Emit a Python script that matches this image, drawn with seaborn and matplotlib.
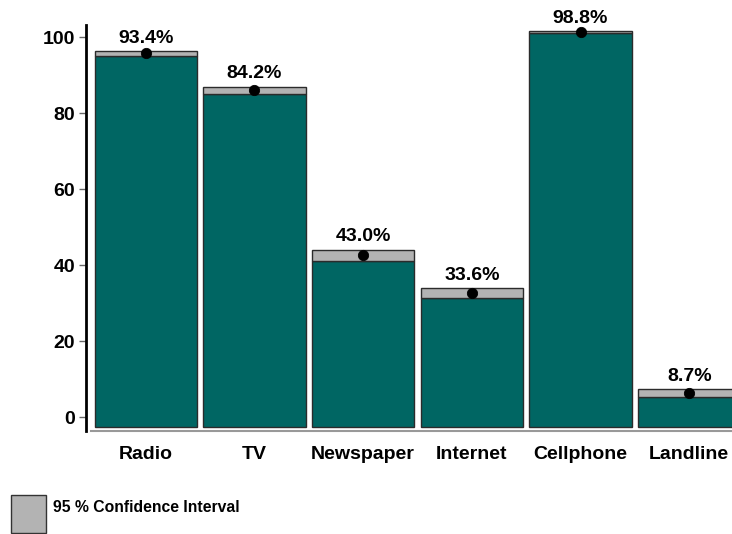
import matplotlib
matplotlib.use("Agg")
import matplotlib.pyplot as plt
from matplotlib.patches import Rectangle
import numpy as np
import pandas as pd
import seaborn as sns

# data (percent)
media = ["Radio", "TV", "Newspaper", "Internet", "Cellphone", "Landline"]
share = [93.4, 84.2, 43.0, 33.6, 98.8, 8.7]
ci_low = [92.7, 83.2, 41.6, 32.3, 98.6, 7.7]
ci_high = [93.9, 85.1, 44.4, 34.8, 98.9, 9.6]

# the axis labels of the original sit on a slightly stretched scale
axis_labels = [0, 20, 40, 60, 80, 100]
scale, shift = 1.053, -2.66

df = pd.DataFrame({"media": media, "share": share, "lo": ci_low, "hi": ci_high})

sns.set_style("white")
plt.rcParams["font.family"] = ["Liberation Sans", "DejaVu Sans"]
plt.rcParams["font.weight"] = "bold"
plt.rcParams["text.color"] = "black"

W, H = 732, 534
fig = plt.figure(figsize=(W / 100, H / 100), dpi=100)
ax = fig.add_axes([86 / W, 103.4 / H, (749 - 86) / W, (509 - 103.4) / H])

teal = "#006663"
grey = "#b3b3b3"

sns.barplot(data=df, x="media", y="lo", color=teal, saturation=1, width=0.94,
            edgecolor="#2b2b2b", linewidth=1, ax=ax)
ax.bar(np.arange(len(media)), df["hi"] - df["lo"], bottom=df["lo"], width=0.94,
       color=grey, edgecolor="#2b2b2b", linewidth=1)
sns.scatterplot(x=np.arange(len(media)), y=df["share"], color="black", s=55,
                edgecolor="black", zorder=5, ax=ax, legend=False)

for i, row in df.iterrows():
    ax.annotate(f"{row['share']:.1f}%", (i, row["hi"]), xytext=(0, 3),
                textcoords="offset points", ha="center", va="bottom",
                fontsize=14, fontweight="bold", color="black")

ax.set_xlim(-0.55, 5.55)
ax.set_ylim(-0.8, 100.5)
ax.set_yticks([(t - shift) / scale for t in axis_labels])
ax.set_yticklabels([str(t) for t in axis_labels])
ax.set_xlabel("")
ax.set_ylabel("")
ax.tick_params(axis="y", labelsize=14, length=5, width=1, color="#666666",
               labelcolor="black", left=True, pad=3)
ax.tick_params(axis="x", labelsize=14, length=0, pad=11, labelcolor="black")
for lab in ax.get_xticklabels() + ax.get_yticklabels():
    lab.set_fontweight("bold")

for s in ["top", "right"]:
    ax.spines[s].set_visible(False)
ax.spines["left"].set_color("black")
ax.spines["left"].set_linewidth(2)
ax.spines["bottom"].set_color("#999999")
ax.spines["bottom"].set_linewidth(1.5)
ax.spines["bottom"].set_bounds(-0.5, 5.55)

# legend box
fig.patches.append(Rectangle((11 / W, 1 - 533 / H), 35 / W, 38 / H,
                             transform=fig.transFigure, facecolor=grey,
                             edgecolor="#333333", linewidth=1))
fig.text(53 / W, 1 - 507 / H, "95 % Confidence Interval", fontsize=11.3,
         fontweight="bold", va="center", ha="left", color="black")

fig.savefig("out.png", dpi=100)
